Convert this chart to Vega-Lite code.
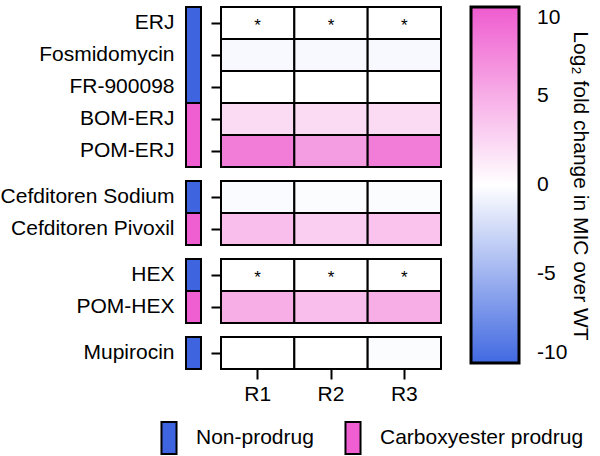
{
  "$schema": "https://vega.github.io/schema/vega-lite/v6.json",
  "padding": {"left": 0, "top": 6, "right": 2, "bottom": 2},
  "background": "white",
  "config": {
    "font": "Liberation Sans",
    "view": {"stroke": null},
    "axis": {"labelColor": "black", "tickColor": "black", "labelFontSize": 21, "title": null, "grid": false, "labelLimit": 300},
    "legend": {"labelColor": "black", "titleColor": "black", "labelFontSize": 21, "labelLimit": 400, "titleLimit": 500}
  },
  "datasets": {
    "drugs": [
      {"drug": "ERJ", "group": 1, "type": "Non-prodrug"},
      {"drug": "Fosmidomycin", "group": 1, "type": "Non-prodrug"},
      {"drug": "FR-900098", "group": 1, "type": "Non-prodrug"},
      {"drug": "BOM-ERJ", "group": 1, "type": "Carboxyester prodrug"},
      {"drug": "POM-ERJ", "group": 1, "type": "Carboxyester prodrug"},
      {"drug": "Cefditoren Sodium", "group": 2, "type": "Non-prodrug"},
      {"drug": "Cefditoren Pivoxil", "group": 2, "type": "Carboxyester prodrug"},
      {"drug": "HEX", "group": 3, "type": "Non-prodrug"},
      {"drug": "POM-HEX", "group": 3, "type": "Carboxyester prodrug"},
      {"drug": "Mupirocin", "group": 4, "type": "Non-prodrug"}
    ],
    "cells": [
      {"drug": "ERJ", "group": 1, "rep": "R1", "value": 0, "sig": "*"},
      {"drug": "ERJ", "group": 1, "rep": "R2", "value": 0, "sig": "*"},
      {"drug": "ERJ", "group": 1, "rep": "R3", "value": 0, "sig": "*"},
      {"drug": "Fosmidomycin", "group": 1, "rep": "R1", "value": -0.4, "sig": ""},
      {"drug": "Fosmidomycin", "group": 1, "rep": "R2", "value": -0.4, "sig": ""},
      {"drug": "Fosmidomycin", "group": 1, "rep": "R3", "value": -0.4, "sig": ""},
      {"drug": "FR-900098", "group": 1, "rep": "R1", "value": 0, "sig": ""},
      {"drug": "FR-900098", "group": 1, "rep": "R2", "value": 0, "sig": ""},
      {"drug": "FR-900098", "group": 1, "rep": "R3", "value": 0, "sig": ""},
      {"drug": "BOM-ERJ", "group": 1, "rep": "R1", "value": 2.3, "sig": ""},
      {"drug": "BOM-ERJ", "group": 1, "rep": "R2", "value": 2.3, "sig": ""},
      {"drug": "BOM-ERJ", "group": 1, "rep": "R3", "value": 2.3, "sig": ""},
      {"drug": "POM-ERJ", "group": 1, "rep": "R1", "value": 8, "sig": ""},
      {"drug": "POM-ERJ", "group": 1, "rep": "R2", "value": 6, "sig": ""},
      {"drug": "POM-ERJ", "group": 1, "rep": "R3", "value": 8, "sig": ""},
      {"drug": "Cefditoren Sodium", "group": 2, "rep": "R1", "value": -0.3, "sig": ""},
      {"drug": "Cefditoren Sodium", "group": 2, "rep": "R2", "value": -0.2, "sig": ""},
      {"drug": "Cefditoren Sodium", "group": 2, "rep": "R3", "value": -0.2, "sig": ""},
      {"drug": "Cefditoren Pivoxil", "group": 2, "rep": "R1", "value": 4, "sig": ""},
      {"drug": "Cefditoren Pivoxil", "group": 2, "rep": "R2", "value": 3, "sig": ""},
      {"drug": "Cefditoren Pivoxil", "group": 2, "rep": "R3", "value": 3.7, "sig": ""},
      {"drug": "HEX", "group": 3, "rep": "R1", "value": 0, "sig": "*"},
      {"drug": "HEX", "group": 3, "rep": "R2", "value": 0, "sig": "*"},
      {"drug": "HEX", "group": 3, "rep": "R3", "value": 0, "sig": "*"},
      {"drug": "POM-HEX", "group": 3, "rep": "R1", "value": 5, "sig": ""},
      {"drug": "POM-HEX", "group": 3, "rep": "R2", "value": 4, "sig": ""},
      {"drug": "POM-HEX", "group": 3, "rep": "R3", "value": 5, "sig": ""},
      {"drug": "Mupirocin", "group": 4, "rep": "R1", "value": 0, "sig": ""},
      {"drug": "Mupirocin", "group": 4, "rep": "R2", "value": 0, "sig": ""},
      {"drug": "Mupirocin", "group": 4, "rep": "R3", "value": -0.2, "sig": ""}
    ]
  },
  "spacing": 12,
  "vconcat": [
    {
      "spacing": 8,
      "hconcat": [
        {
          "width": 15, "height": 160,
          "data": {"name": "drugs"},
          "transform": [{"filter": "datum.group == 1"}],
          "resolve": {"scale": {"y": "independent"}},
          "layer": [
            {"mark": {"type": "rect", "opacity": 0}, "encoding": {"y": {"field": "drug", "type": "nominal", "sort": null, "axis": {"ticks": false, "domain": false, "labelPadding": 12}}}},
            {"mark": {"type": "bar", "stroke": "black", "strokeWidth": 2, "size": 15}, "encoding": {
              "y": {"aggregate": "count", "type": "quantitative", "scale": {"domain": [0, 5], "reverse": true, "nice": false}, "axis": null},
              "color": {"field": "type", "type": "nominal", "scale": {"domain": ["Non-prodrug", "Carboxyester prodrug"], "range": ["#3e64df", "#ef5fd1"]},
                "legend": {"orient": "none", "legendX": -34, "legendY": 414, "direction": "horizontal", "title": null, "symbolType": "M-0.47,-1H0.47V1H-0.47Z", "symbolSize": 1024, "symbolStrokeColor": "black", "symbolStrokeWidth": 2, "symbolOpacity": 1, "labelOffset": 10, "columnPadding": 22}},
              "order": {"field": "type", "sort": "descending"}}}
          ]
        },
        {
          "width": 220, "height": 160,
          "data": {"name": "cells"},
          "transform": [{"filter": "datum.group == 1"}],
          "encoding": {
            "x": {"field": "rep", "type": "nominal", "axis": null},
            "y": {"field": "drug", "type": "nominal", "sort": null, "axis": {"labels": false, "tickSize": 10, "tickWidth": 2, "domain": false}}
          },
          "layer": [
            {"mark": {"type": "rect", "stroke": "black", "strokeWidth": 2}, "encoding": {"fill": {"field": "value", "type": "quantitative", "scale": {"domain": [-10, 0, 10], "range": ["#4169e1", "#ffffff", "#ef5ccf"], "interpolate": "rgb"},
              "legend": {"orient": "right", "direction": "vertical", "title": "Log₂ fold change in MIC over WT", "titleOrient": "right", "titleAngle": 90, "titleFontSize": 21, "titleFontWeight": "normal", "titleAnchor": "middle", "titlePadding": 3, "gradientLength": 356, "gradientThickness": 48, "gradientStrokeColor": "black", "gradientStrokeWidth": 3, "values": [10, 5, 0, -5, -10], "labelExpr": "'' + datum.value", "labelOffset": 18, "offset": 29}}}},
            {"mark": {"type": "text", "fontSize": 17, "color": "black", "dy": 3}, "encoding": {"text": {"field": "sig"}}}
          ]
        }
      ]
    },
    {
      "spacing": 8,
      "hconcat": [
        {
          "width": 15, "height": 64,
          "data": {"name": "drugs"},
          "transform": [{"filter": "datum.group == 2"}],
          "resolve": {"scale": {"y": "independent"}},
          "layer": [
            {"mark": {"type": "rect", "opacity": 0}, "encoding": {"y": {"field": "drug", "type": "nominal", "sort": null, "axis": {"ticks": false, "domain": false, "labelPadding": 12}}}},
            {"mark": {"type": "bar", "stroke": "black", "strokeWidth": 2, "size": 15}, "encoding": {
              "y": {"aggregate": "count", "type": "quantitative", "scale": {"domain": [0, 2], "reverse": true, "nice": false}, "axis": null},
              "color": {"field": "type", "type": "nominal", "scale": {"domain": ["Non-prodrug", "Carboxyester prodrug"], "range": ["#3e64df", "#ef5fd1"]}},
              "order": {"field": "type", "sort": "descending"}}}
          ]
        },
        {
          "width": 220, "height": 64,
          "data": {"name": "cells"},
          "transform": [{"filter": "datum.group == 2"}],
          "encoding": {
            "x": {"field": "rep", "type": "nominal", "axis": null},
            "y": {"field": "drug", "type": "nominal", "sort": null, "axis": {"labels": false, "tickSize": 10, "tickWidth": 2, "domain": false}}
          },
          "layer": [
            {"mark": {"type": "rect", "stroke": "black", "strokeWidth": 2}, "encoding": {"fill": {"field": "value", "type": "quantitative", "scale": {"domain": [-10, 0, 10], "range": ["#4169e1", "#ffffff", "#ef5ccf"], "interpolate": "rgb"}}}},
            {"mark": {"type": "text", "fontSize": 17, "color": "black", "dy": 3}, "encoding": {"text": {"field": "sig"}}}
          ]
        }
      ]
    },
    {
      "spacing": 8,
      "hconcat": [
        {
          "width": 15, "height": 64,
          "data": {"name": "drugs"},
          "transform": [{"filter": "datum.group == 3"}],
          "resolve": {"scale": {"y": "independent"}},
          "layer": [
            {"mark": {"type": "rect", "opacity": 0}, "encoding": {"y": {"field": "drug", "type": "nominal", "sort": null, "axis": {"ticks": false, "domain": false, "labelPadding": 12}}}},
            {"mark": {"type": "bar", "stroke": "black", "strokeWidth": 2, "size": 15}, "encoding": {
              "y": {"aggregate": "count", "type": "quantitative", "scale": {"domain": [0, 2], "reverse": true, "nice": false}, "axis": null},
              "color": {"field": "type", "type": "nominal", "scale": {"domain": ["Non-prodrug", "Carboxyester prodrug"], "range": ["#3e64df", "#ef5fd1"]}},
              "order": {"field": "type", "sort": "descending"}}}
          ]
        },
        {
          "width": 220, "height": 64,
          "data": {"name": "cells"},
          "transform": [{"filter": "datum.group == 3"}],
          "encoding": {
            "x": {"field": "rep", "type": "nominal", "axis": null},
            "y": {"field": "drug", "type": "nominal", "sort": null, "axis": {"labels": false, "tickSize": 10, "tickWidth": 2, "domain": false}}
          },
          "layer": [
            {"mark": {"type": "rect", "stroke": "black", "strokeWidth": 2}, "encoding": {"fill": {"field": "value", "type": "quantitative", "scale": {"domain": [-10, 0, 10], "range": ["#4169e1", "#ffffff", "#ef5ccf"], "interpolate": "rgb"}}}},
            {"mark": {"type": "text", "fontSize": 17, "color": "black", "dy": 3}, "encoding": {"text": {"field": "sig"}}}
          ]
        }
      ]
    },
    {
      "spacing": 8,
      "hconcat": [
        {
          "width": 15, "height": 32,
          "data": {"name": "drugs"},
          "transform": [{"filter": "datum.group == 4"}],
          "resolve": {"scale": {"y": "independent"}},
          "layer": [
            {"mark": {"type": "rect", "opacity": 0}, "encoding": {"y": {"field": "drug", "type": "nominal", "sort": null, "axis": {"ticks": false, "domain": false, "labelPadding": 12}}}},
            {"mark": {"type": "bar", "stroke": "black", "strokeWidth": 2, "size": 15}, "encoding": {
              "y": {"aggregate": "count", "type": "quantitative", "scale": {"domain": [0, 1], "reverse": true, "nice": false}, "axis": null},
              "color": {"field": "type", "type": "nominal", "scale": {"domain": ["Non-prodrug", "Carboxyester prodrug"], "range": ["#3e64df", "#ef5fd1"]}},
              "order": {"field": "type", "sort": "descending"}}}
          ]
        },
        {
          "width": 220, "height": 32,
          "data": {"name": "cells"},
          "transform": [{"filter": "datum.group == 4"}],
          "encoding": {
            "x": {"field": "rep", "type": "nominal", "axis": {"labelAngle": 0, "tickSize": 10, "tickWidth": 2, "domain": false, "labelPadding": 4}},
            "y": {"field": "drug", "type": "nominal", "sort": null, "axis": {"labels": false, "tickSize": 10, "tickWidth": 2, "domain": false}}
          },
          "layer": [
            {"mark": {"type": "rect", "stroke": "black", "strokeWidth": 2}, "encoding": {"fill": {"field": "value", "type": "quantitative", "scale": {"domain": [-10, 0, 10], "range": ["#4169e1", "#ffffff", "#ef5ccf"], "interpolate": "rgb"}}}},
            {"mark": {"type": "text", "fontSize": 17, "color": "black", "dy": 3}, "encoding": {"text": {"field": "sig"}}}
          ]
        }
      ]
    }
  ]
}
